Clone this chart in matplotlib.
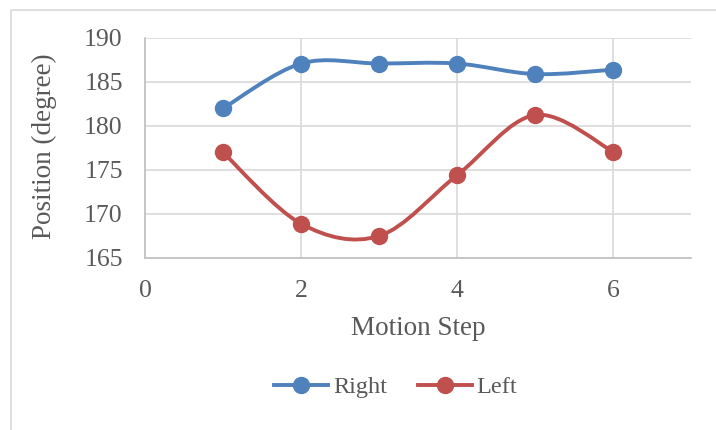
import matplotlib.pyplot as plt
from matplotlib.path import Path
from matplotlib.patches import PathPatch
from matplotlib.lines import Line2D

steps = [1, 2, 3, 4, 5, 6]
right = [182.0, 187.1, 187.1, 187.1, 185.9, 186.4]
left = [177.0, 168.9, 167.5, 174.4, 181.25, 177.1]
x_ticks = [0, 2, 4, 6]
y_ticks = [165, 170, 175, 180, 185, 190]

BLUE = "#4F81BD"
RED = "#C0504D"
TXT = "#595959"

plt.rcParams['font.family'] = ['Liberation Serif', 'DejaVu Serif']


# Excel-like smoothed line as a bezier path through the points
def smooth_path(xs, ys):
    n = len(xs)
    verts = [(xs[0], ys[0])]
    codes = [Path.MOVETO]
    for i in range(n - 1):
        i0 = max(i - 1, 0)
        i3 = min(i + 2, n - 1)
        c1 = (xs[i] + (xs[i + 1] - xs[i0]) / 6, ys[i] + (ys[i + 1] - ys[i0]) / 6)
        c2 = (xs[i + 1] - (xs[i3] - xs[i]) / 6, ys[i + 1] - (ys[i3] - ys[i]) / 6)
        verts += [c1, c2, (xs[i + 1], ys[i + 1])]
        codes += [Path.CURVE4] * 3
    return Path(verts, codes)


W, H = 716, 430
fig = plt.figure(figsize=(W / 100, H / 100), dpi=100)
ax = fig.add_axes([145 / W, 1 - 258 / H, 546 / W, 220 / H])

for ys, col in [(right, BLUE), (left, RED)]:
    ax.add_patch(PathPatch(smooth_path(steps, ys), fill=False, edgecolor=col,
                           linewidth=2.8, capstyle='round', zorder=3))
    ax.plot(steps, ys, linestyle='none', marker='o', markersize=11.5,
            color=col, zorder=4)

ax.set_xlim(0, 7)
ax.set_ylim(165, 190)
ax.set_xticks(x_ticks)
ax.set_yticks(y_ticks)
ax.grid(True, color="#D9D9D9", linewidth=1.2)
ax.set_axisbelow(True)
for s in ['top', 'right']:
    ax.spines[s].set_visible(False)
for s in ['left', 'bottom']:
    ax.spines[s].set_color("#BFBFBF")
    ax.spines[s].set_linewidth(1.2)
ax.tick_params(length=0, labelsize=18.5, colors=TXT, pad=16)

fig.text(418 / W, 1 - 335 / H, "Motion Step", fontsize=19.5, color=TXT,
         ha='center', va='baseline')
fig.text(44 / W, 1 - 146 / H, "Position (degree)", fontsize=19.5, color=TXT,
         ha='center', va='center', rotation=90)

handles = [Line2D([], [], color=BLUE, linewidth=2.8, marker='o', markersize=11.5),
           Line2D([], [], color=RED, linewidth=2.8, marker='o', markersize=11.5)]
fig.legend(handles, ["Right", "Left"], loc='center', bbox_to_anchor=(396 / W, 1 - 387 / H),
           ncol=2, frameon=False, fontsize=17.5, labelcolor=TXT, handlelength=2.2,
           handletextpad=0.2, columnspacing=1.3, borderpad=0)

# chart area border (top and left)
fig.add_artist(Line2D([11 / W, 11 / W, 1], [0, 1 - 9.5 / H, 1 - 9.5 / H],
                      color="#D9D9D9", linewidth=1.2))

fig.savefig("out.png", dpi=100)
